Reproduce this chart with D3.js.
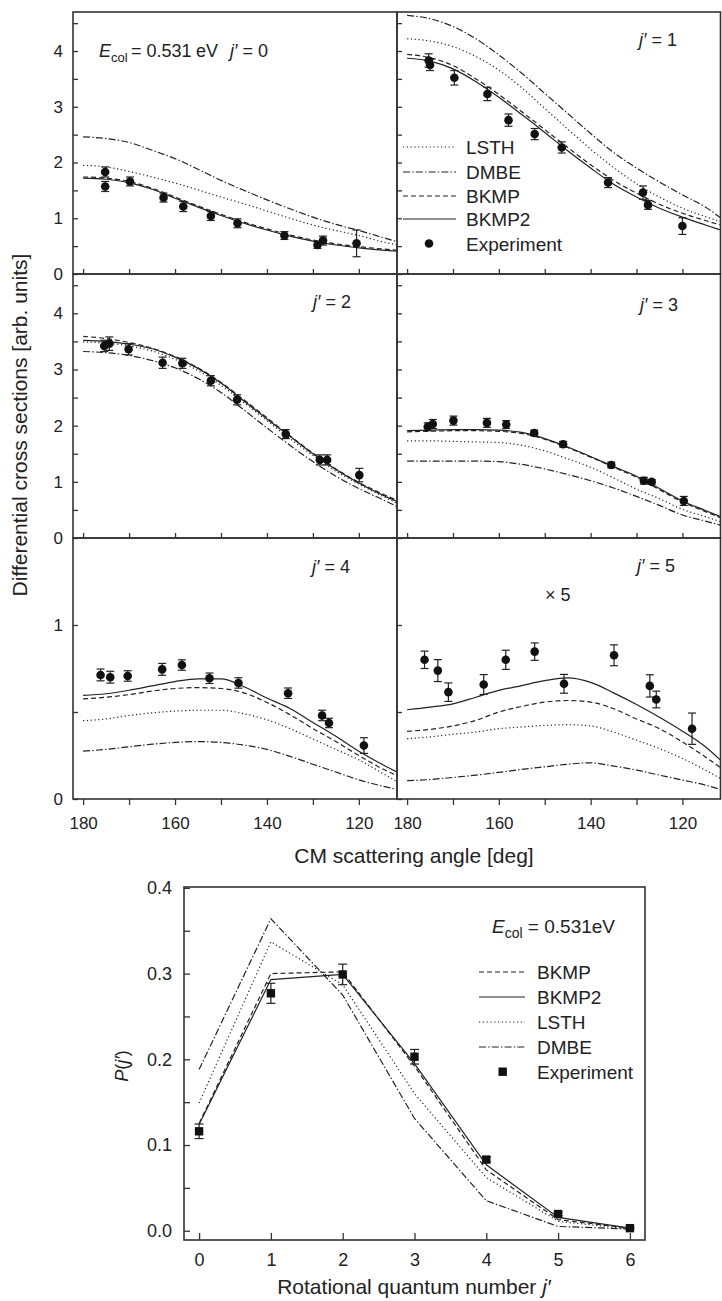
<!DOCTYPE html>
<html>
<head>
<meta charset="utf-8">
<script src="https://cdn.jsdelivr.net/npm/d3@7"></script>
<style>
  body { margin: 0; background: #fff; }
  svg text { font-family: "Liberation Sans", Arial, Helvetica, sans-serif; fill: #222; }
</style>
</head>
<body>
<svg id="fig" width="722" height="1301"></svg>
<script>
// ---------- differential cross sections: theory curves ----------
// CM scattering angles (deg) at which the computed curves are tabulated
const angles = [180, 175, 170, 165, 160, 155, 150, 145, 140, 135, 130, 125, 120, 115, 111.7];

// j' = 0
const lsthJ0  = [1.95, 1.92, 1.84, 1.74, 1.63, 1.51, 1.38, 1.26, 1.13, 1.00, 0.88, 0.78, 0.69, 0.58, 0.52];
const dmbeJ0  = [2.46, 2.43, 2.36, 2.22, 2.07, 1.88, 1.68, 1.50, 1.33, 1.17, 1.02, 0.89, 0.78, 0.66, 0.58];
const bkmpJ0  = [1.74, 1.72, 1.66, 1.54, 1.38, 1.22, 1.07, 0.93, 0.81, 0.70, 0.61, 0.54, 0.49, 0.45, 0.43];
const bkmp2J0 = [1.72, 1.70, 1.64, 1.52, 1.36, 1.20, 1.05, 0.91, 0.79, 0.68, 0.59, 0.52, 0.47, 0.43, 0.41];
// j' = 1
const lsthJ1  = [4.22, 4.18, 4.08, 3.90, 3.66, 3.34, 2.97, 2.60, 2.24, 1.91, 1.62, 1.38, 1.18, 1.03, 0.94];
const dmbeJ1  = [4.64, 4.58, 4.44, 4.22, 3.93, 3.60, 3.24, 2.88, 2.52, 2.18, 1.90, 1.65, 1.42, 1.20, 1.01];
const bkmpJ1  = [3.94, 3.88, 3.74, 3.50, 3.22, 2.91, 2.59, 2.27, 1.96, 1.68, 1.45, 1.25, 1.09, 0.96, 0.88];
const bkmp2J1 = [3.87, 3.82, 3.68, 3.45, 3.17, 2.86, 2.54, 2.21, 1.90, 1.61, 1.38, 1.18, 1.02, 0.88, 0.79];
// j' = 2
const lsthJ2  = [3.49, 3.47, 3.42, 3.33, 3.18, 2.98, 2.72, 2.41, 2.09, 1.77, 1.47, 1.19, 0.96, 0.75, 0.62];
const dmbeJ2  = [3.32, 3.30, 3.25, 3.16, 3.03, 2.84, 2.59, 2.28, 1.96, 1.65, 1.36, 1.10, 0.88, 0.69, 0.56];
const bkmpJ2  = [3.59, 3.55, 3.48, 3.38, 3.23, 3.03, 2.77, 2.46, 2.14, 1.82, 1.51, 1.23, 0.99, 0.79, 0.67];
const bkmp2J2 = [3.52, 3.50, 3.45, 3.37, 3.22, 3.02, 2.76, 2.44, 2.12, 1.81, 1.50, 1.22, 0.98, 0.77, 0.65];
// j' = 3
const lsthJ3  = [1.73, 1.73, 1.72, 1.71, 1.70, 1.65, 1.55, 1.41, 1.26, 1.07, 0.87, 0.70, 0.51, 0.38, 0.29];
const dmbeJ3  = [1.37, 1.37, 1.37, 1.37, 1.36, 1.31, 1.23, 1.13, 1.02, 0.89, 0.74, 0.58, 0.41, 0.30, 0.23];
const bkmpJ3  = [1.89, 1.90, 1.91, 1.91, 1.90, 1.86, 1.76, 1.61, 1.44, 1.26, 1.08, 0.86, 0.64, 0.47, 0.36];
const bkmp2J3 = [1.91, 1.92, 1.93, 1.93, 1.92, 1.88, 1.77, 1.62, 1.45, 1.27, 1.10, 0.88, 0.66, 0.49, 0.38];
// j' = 4
const lsthJ4  = [0.45, 0.46, 0.48, 0.495, 0.505, 0.51, 0.51, 0.49, 0.455, 0.405, 0.345, 0.285, 0.225, 0.15, 0.10];
const dmbeJ4  = [0.275, 0.285, 0.30, 0.315, 0.325, 0.33, 0.325, 0.31, 0.285, 0.245, 0.20, 0.155, 0.11, 0.075, 0.055];
const bkmpJ4  = [0.575, 0.585, 0.60, 0.62, 0.635, 0.64, 0.635, 0.61, 0.555, 0.485, 0.405, 0.33, 0.25, 0.175, 0.135];
const bkmp2J4 = [0.595, 0.605, 0.625, 0.65, 0.675, 0.69, 0.69, 0.645, 0.58, 0.52, 0.44, 0.36, 0.275, 0.20, 0.155];
// j' = 5 (drawn multiplied by 5)
const lsthJ5  = [0.347, 0.357, 0.372, 0.385, 0.404, 0.414, 0.423, 0.427, 0.42, 0.385, 0.338, 0.29, 0.233, 0.166, 0.118];
const dmbeJ5  = [0.105, 0.112, 0.124, 0.137, 0.153, 0.17, 0.185, 0.20, 0.208, 0.189, 0.166, 0.137, 0.109, 0.08, 0.055];
const bkmpJ5  = [0.389, 0.40, 0.42, 0.452, 0.50, 0.532, 0.557, 0.566, 0.557, 0.519, 0.46, 0.404, 0.328, 0.242, 0.18];
const bkmp2J5 = [0.513, 0.528, 0.547, 0.585, 0.624, 0.652, 0.68, 0.696, 0.67, 0.61, 0.543, 0.47, 0.39, 0.30, 0.223];

// ---------- differential cross sections: measurements ----------
const expAngJ0 = [175.2, 175.2, 169.8, 162.5, 158.2, 152.2, 146.4, 136.2, 129.0, 127.8, 120.5];
const expJ0    = [1.83, 1.57, 1.66, 1.37, 1.21, 1.04, 0.91, 0.69, 0.52, 0.60, 0.55];
const errJ0    = [0.09, 0.09, 0.08, 0.08, 0.09, 0.08, 0.08, 0.07, 0.06, 0.08, 0.24];
const expAngJ1 = [175.3, 175.0, 169.7, 162.5, 157.9, 152.2, 146.3, 136.2, 128.6, 127.5, 120.0];
const expJ1    = [3.83, 3.75, 3.52, 3.23, 2.76, 2.51, 2.27, 1.64, 1.46, 1.24, 0.86];
const errJ1    = [0.12, 0.10, 0.13, 0.12, 0.11, 0.10, 0.10, 0.09, 0.12, 0.08, 0.15];
const expAngJ2 = [175.4, 174.3, 170.1, 162.7, 158.4, 152.2, 146.5, 135.9, 128.5, 126.9, 119.9];
const expJ2    = [3.42, 3.46, 3.36, 3.12, 3.11, 2.80, 2.46, 1.85, 1.39, 1.39, 1.12];
const errJ2    = [0.10, 0.12, 0.10, 0.10, 0.09, 0.09, 0.09, 0.08, 0.09, 0.09, 0.12];
const expAngJ3 = [175.5, 174.4, 169.9, 162.6, 158.4, 152.3, 146.0, 135.5, 128.4, 126.7, 119.7];
const expJ3    = [1.98, 2.03, 2.09, 2.05, 2.02, 1.87, 1.67, 1.30, 1.02, 1.00, 0.66];
const errJ3    = [0.07, 0.08, 0.08, 0.08, 0.07, 0.05, 0.05, 0.05, 0.06, 0.04, 0.08];
const expAngJ4 = [176.2, 174.1, 170.3, 162.8, 158.5, 152.5, 146.2, 135.4, 128.0, 126.5, 118.9];
const expJ4    = [0.713, 0.70, 0.707, 0.745, 0.77, 0.694, 0.667, 0.608, 0.48, 0.437, 0.307];
const errJ4    = [0.034, 0.034, 0.03, 0.034, 0.03, 0.03, 0.03, 0.03, 0.03, 0.027, 0.045];
const expAngJ5 = [176.2, 173.3, 171.0, 163.3, 158.5, 152.2, 145.8, 134.9, 127.1, 125.7, 117.9];
const expJ5    = [0.80, 0.738, 0.614, 0.658, 0.80, 0.847, 0.662, 0.826, 0.65, 0.572, 0.404];
const errJ5    = [0.05, 0.063, 0.053, 0.057, 0.055, 0.05, 0.054, 0.06, 0.064, 0.048, 0.09];

// ---------- rotational distribution P(j') ----------
const jPrime  = [0, 1, 2, 3, 4, 5, 6];
const pBKMP   = [0.125, 0.300, 0.302, 0.192, 0.071, 0.013, 0.003];
const pBKMP2  = [0.124, 0.293, 0.299, 0.195, 0.077, 0.0155, 0.003];
const pLSTH   = [0.149, 0.337, 0.287, 0.160, 0.062, 0.011, 0.002];
const pDMBE   = [0.188, 0.364, 0.275, 0.131, 0.035, 0.005, 0.002];
const pExp    = [0.116, 0.277, 0.299, 0.203, 0.083, 0.0195, 0.003];
const pExpErr = [0.0085, 0.0117, 0.012, 0.0085, 0.003, 0.002, 0.001];

// axis tick values
const angleTicksMajor = [180, 160, 140, 120];
const angleTicksAll   = [180, 170, 160, 150, 140, 130, 120];
const dcsMajorTall  = [0, 1, 2, 3, 4];
const dcsMinorTall  = [0.5, 1.5, 2.5, 3.5, 4.5];
const dcsMajorShort = [0, 1];
const dcsMinorShort = [0.5];
const pTicksMajor = [0, 0.1, 0.2, 0.3, 0.4];
const pTicksMinor = [0.05, 0.15, 0.25, 0.35];

// ---------- drawing ----------
const ink = "#222";
const frameInk = "#333";
const svg = d3.select("#fig");
const defs = svg.append("defs");

// line styles per potential energy surface
const dash = { LSTH: "1.2,2.6", DMBE: "7,2.2,1.4,2.2", BKMP: "5,3", BKMP2: null };

const panels = [
  { col: 0, row: 0, lsth: lsthJ0, dmbe: dmbeJ0, bkmp: bkmpJ0, bkmp2: bkmp2J0, ang: expAngJ0, val: expJ0, err: errJ0 },
  { col: 1, row: 0, lsth: lsthJ1, dmbe: dmbeJ1, bkmp: bkmpJ1, bkmp2: bkmp2J1, ang: expAngJ1, val: expJ1, err: errJ1 },
  { col: 0, row: 1, lsth: lsthJ2, dmbe: dmbeJ2, bkmp: bkmpJ2, bkmp2: bkmp2J2, ang: expAngJ2, val: expJ2, err: errJ2 },
  { col: 1, row: 1, lsth: lsthJ3, dmbe: dmbeJ3, bkmp: bkmpJ3, bkmp2: bkmp2J3, ang: expAngJ3, val: expJ3, err: errJ3 },
  { col: 0, row: 2, lsth: lsthJ4, dmbe: dmbeJ4, bkmp: bkmpJ4, bkmp2: bkmp2J4, ang: expAngJ4, val: expJ4, err: errJ4 },
  { col: 1, row: 2, lsth: lsthJ5, dmbe: dmbeJ5, bkmp: bkmpJ5, bkmp2: bkmp2J5, ang: expAngJ5, val: expJ5, err: errJ5 }
];

const colX = [[73, 397], [397, 720.5]];
const rowY = [[12, 274], [274, 538], [538, 799]];
const rowMax = [4.7, 4.7, 1.5];

function styleAxis(sel, size) {
  sel.select(".domain").remove();
  sel.attr("font-size", size).attr("font-family", null).style("color", frameInk);
  sel.selectAll(".tick line").attr("stroke-width", 1.3);
  sel.selectAll(".tick text").style("fill", ink);
}

function errorBar(g, cx, yLo, yHi, cap) {
  g.append("line").attr("x1", cx).attr("x2", cx).attr("y1", yLo).attr("y2", yHi);
  g.append("line").attr("x1", cx - cap).attr("x2", cx + cap).attr("y1", yLo).attr("y2", yLo);
  g.append("line").attr("x1", cx - cap).attr("x2", cx + cap).attr("y1", yHi).attr("y2", yHi);
}

panels.forEach((p, i) => {
  const [x0, x1] = colX[p.col];
  const [y0, y1] = rowY[p.row];
  const tall = p.row < 2;
  const x = d3.scaleLinear().domain([182.2, 111.7]).range([x0, x1]);
  const y = d3.scaleLinear().domain([0, rowMax[p.row]]).range([y1, y0]);
  const g = svg.append("g");

  defs.append("clipPath").attr("id", "pc" + i)
    .append("rect").attr("x", x0).attr("y", y0).attr("width", x1 - x0).attr("height", y1 - y0);

  // vertical axis: inward ticks, labels only on the left column
  const major = tall ? dcsMajorTall : dcsMajorShort;
  const minor = tall ? dcsMinorTall : dcsMinorShort;
  g.append("g").attr("transform", `translate(${x0},0)`)
    .call(d3.axisLeft(y).tickValues(major).tickSize(-5).tickPadding(10)
      .tickFormat(p.col === 0 ? d3.format("d") : () => ""))
    .call(s => styleAxis(s, 17));
  g.append("g").attr("transform", `translate(${x0},0)`)
    .call(d3.axisLeft(y).tickValues(minor).tickSize(-5).tickFormat(() => ""))
    .call(s => styleAxis(s, 17));

  // horizontal axis
  if (tall) {
    g.append("g").attr("transform", `translate(0,${y1})`)
      .call(d3.axisBottom(x).tickValues(angleTicksAll).tickSize(-5).tickFormat(() => ""))
      .call(s => styleAxis(s, 17));
  } else {
    g.append("g").attr("transform", `translate(0,${y1})`)
      .call(d3.axisBottom(x).tickValues(angleTicksAll).tickSize(6).tickFormat(() => ""))
      .call(s => styleAxis(s, 17));
    g.append("g").attr("transform", `translate(0,${y1})`)
      .call(d3.axisBottom(x).tickValues(angleTicksMajor).tickSize(0).tickPadding(17.5).tickFormat(d3.format("d")))
      .call(s => styleAxis(s, 17));
  }

  // computed curves
  const curves = [["DMBE", p.dmbe], ["LSTH", p.lsth], ["BKMP", p.bkmp], ["BKMP2", p.bkmp2]];
  const line = d3.line().x(d => x(d[0])).y(d => y(d[1])).curve(d3.curveMonotoneX);
  const cg = g.append("g").attr("clip-path", `url(#pc${i})`);
  curves.forEach(([name, vals]) => {
    cg.append("path")
      .attr("d", line(angles.map((a, k) => [a, vals[k]])))
      .attr("fill", "none").attr("stroke", ink).attr("stroke-width", 1.2)
      .attr("stroke-dasharray", dash[name]);
  });

  // measurements
  const eg = g.append("g").attr("stroke", ink).attr("stroke-width", 1.2);
  p.ang.forEach((a, k) => {
    errorBar(eg, x(a), y(p.val[k] - p.err[k]), y(p.val[k] + p.err[k]), 4);
  });
  g.append("g").selectAll("circle").data(p.ang).join("circle")
    .attr("cx", d => x(d)).attr("cy", (d, k) => y(p.val[k])).attr("r", 4.3).attr("fill", "#111");

  // frame
  g.append("rect").attr("x", x0).attr("y", y0).attr("width", x1 - x0).attr("height", y1 - y0)
    .attr("fill", "none").attr("stroke", frameInk).attr("stroke-width", 1.6);
});

// panel annotations
function jLabel(xPos, yPos, n) {
  const t = svg.append("text").attr("x", xPos).attr("y", yPos).attr("font-size", 18);
  t.append("tspan").attr("font-style", "italic").text("j′");
  t.append("tspan").text(" = " + n);
}
{
  const t = svg.append("text").attr("x", 99).attr("y", 57).attr("font-size", 18);
  t.append("tspan").attr("font-style", "italic").text("E");
  t.append("tspan").attr("font-size", 13).attr("dy", 5).text("col");
  t.append("tspan").attr("x", 131).attr("dy", -5).text("= 0.531");
  t.append("tspan").attr("x", 196).text("eV");
  t.append("tspan").attr("x", 230).attr("font-style", "italic").text("j′");
  t.append("tspan").text(" = 0");
}
jLabel(639, 46, 1);
jLabel(313, 308, 2);
jLabel(640, 311, 3);
jLabel(312, 573, 4);
jLabel(637, 572, 5);
svg.append("text").attr("x", 545).attr("y", 601).attr("font-size", 18).text("× 5");

// legend of the angular panels
const legTop = [["LSTH", 147], ["DMBE", 172], ["BKMP", 196], ["BKMP2", 219]];
legTop.forEach(([name, cy]) => {
  svg.append("line").attr("x1", 403).attr("x2", 456).attr("y1", cy).attr("y2", cy)
    .attr("stroke", ink).attr("stroke-width", 1.2).attr("stroke-dasharray", dash[name]);
  svg.append("text").attr("x", 466).attr("y", cy + 7).attr("font-size", 19).text(name);
});
svg.append("circle").attr("cx", 429).attr("cy", 243.5).attr("r", 4.3).attr("fill", "#111");
svg.append("text").attr("x", 466).attr("y", 250.5).attr("font-size", 19).text("Experiment");

// axis titles of the angular panels
svg.append("text").attr("transform", "translate(27,425) rotate(-90)")
  .attr("text-anchor", "middle").attr("font-size", 21)
  .text("Differential cross sections [arb. units]");
svg.append("text").attr("x", 414).attr("y", 863).attr("text-anchor", "middle").attr("font-size", 21)
  .text("CM scattering angle [deg]");

// ---------- P(j') chart ----------
const px0 = 184, px1 = 645, py0 = 887, py1 = 1240;
const xP = d3.scaleLinear().domain([-0.21, 6.21]).range([px0, px1]);
const yP = d3.scaleLinear().domain([-0.0108, 0.401]).range([py1, py0]);
const gp = svg.append("g");

gp.append("g").attr("transform", `translate(${px0},0)`)
  .call(d3.axisLeft(yP).tickValues(pTicksMajor).tickSize(-6).tickPadding(12).tickFormat(d3.format(".1f")))
  .call(s => styleAxis(s, 18));
gp.append("g").attr("transform", `translate(${px0},0)`)
  .call(d3.axisLeft(yP).tickValues(pTicksMinor).tickSize(-6).tickFormat(() => ""))
  .call(s => styleAxis(s, 18));
gp.append("g").attr("transform", `translate(0,${py1})`)
  .call(d3.axisBottom(xP).tickValues(jPrime).tickSize(-7).tickPadding(13).tickFormat(d3.format("d")))
  .call(s => styleAxis(s, 18));

const lineP = d3.line().x(d => xP(d[0])).y(d => yP(d[1]));
[["DMBE", pDMBE], ["LSTH", pLSTH], ["BKMP", pBKMP], ["BKMP2", pBKMP2]].forEach(([name, vals]) => {
  gp.append("path").attr("d", lineP(jPrime.map((j, k) => [j, vals[k]])))
    .attr("fill", "none").attr("stroke", ink).attr("stroke-width", 1.2)
    .attr("stroke-dasharray", dash[name]);
});
const egp = gp.append("g").attr("stroke", ink).attr("stroke-width", 1.2);
jPrime.forEach((j, k) => errorBar(egp, xP(j), yP(pExp[k] - pExpErr[k]), yP(pExp[k] + pExpErr[k]), 4.5));
gp.append("g").selectAll("rect").data(jPrime).join("rect")
  .attr("x", d => xP(d) - 4.2).attr("y", (d, k) => yP(pExp[k]) - 4.2)
  .attr("width", 8.4).attr("height", 8.4).attr("fill", "#111");

gp.append("rect").attr("x", px0).attr("y", py0).attr("width", px1 - px0).attr("height", py1 - py0)
  .attr("fill", "none").attr("stroke", frameInk).attr("stroke-width", 1.6);

// legend of the P(j') chart
{
  const t = svg.append("text").attr("x", 492).attr("y", 933).attr("font-size", 19);
  t.append("tspan").attr("font-style", "italic").text("E");
  t.append("tspan").attr("font-size", 14).attr("dy", 5).text("col");
  t.append("tspan").attr("dy", -5).text(" = 0.531eV");
}
const legBottom = [["BKMP", 972], ["BKMP2", 997], ["LSTH", 1022], ["DMBE", 1047]];
legBottom.forEach(([name, cy]) => {
  svg.append("line").attr("x1", 479).attr("x2", 525).attr("y1", cy).attr("y2", cy)
    .attr("stroke", ink).attr("stroke-width", 1.2).attr("stroke-dasharray", dash[name]);
  svg.append("text").attr("x", 537).attr("y", cy + 7).attr("font-size", 19).text(name);
});
svg.append("rect").attr("x", 498.5).attr("y", 1067.5).attr("width", 8.4).attr("height", 8.4).attr("fill", "#111");
svg.append("text").attr("x", 537).attr("y", 1079).attr("font-size", 19).text("Experiment");

// axis titles of the P(j') chart
{
  const t = svg.append("text").attr("transform", "translate(128,1066) rotate(-90)")
    .attr("text-anchor", "middle").attr("font-size", 18);
  t.append("tspan").attr("font-style", "italic").text("P");
  t.append("tspan").text("(");
  t.append("tspan").attr("font-style", "italic").text("j′");
  t.append("tspan").text(")");
}
{
  const t = svg.append("text").attr("x", 414).attr("y", 1294).attr("text-anchor", "middle").attr("font-size", 21);
  t.append("tspan").text("Rotational quantum number ");
  t.append("tspan").attr("font-style", "italic").text("j′");
}
</script>
</body>
</html>
